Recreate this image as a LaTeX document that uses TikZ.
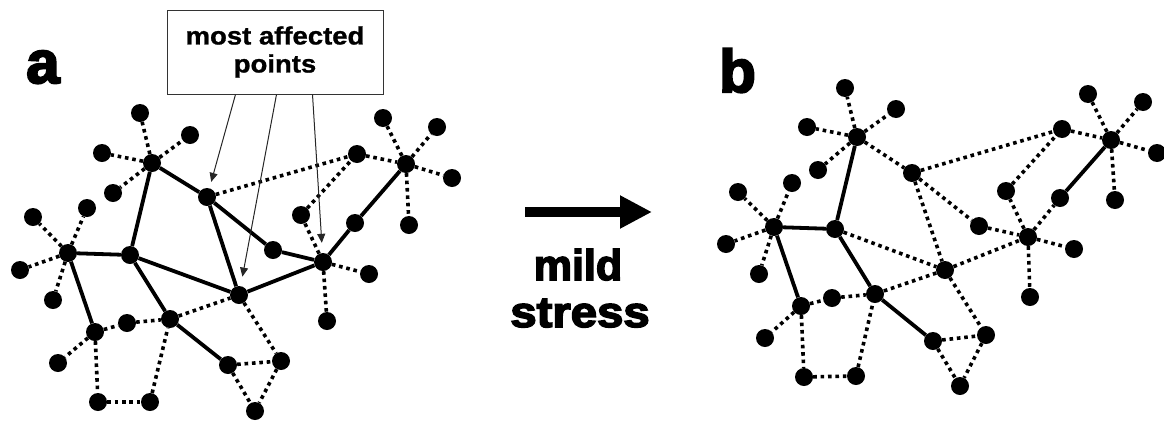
\documentclass[tikz,border=0pt]{standalone}
\usepackage{fontspec}
\usepackage{graphicx}
\usetikzlibrary{arrows.meta}
\newfontfamily\heavy{Liberation Sans}[FakeBold=3.5]
\newfontfamily\plainsans{Liberation Sans}[FakeBold=1]
\tikzset{
  dot/.style={circle, fill=black, inner sep=0pt, minimum size=18pt},
  solidedge/.style={line width=3.8pt},
  dotedge/.style={line width=3.6pt, dash pattern=on 3.6pt off 3.8pt},
  pointer/.style={line width=1pt, draw=black!85, -{Triangle[length=9pt,width=8pt]}},
  bigarrow/.style={line width=10pt, -{Triangle[length=32pt,width=31pt]}},
  panel/.style={font=\heavy\bfseries\fontsize{60}{60}\selectfont, inner sep=0pt, anchor=base west},
  stresstext/.style={font=\heavy\bfseries\fontsize{43}{43}\selectfont, inner sep=0pt, anchor=base},
  labelbox/.style={draw=black!80, line width=1pt, minimum width=216pt, minimum height=84pt, align=center, inner sep=0pt,
    font=\plainsans\bfseries\fontsize{25}{28}\selectfont}
}
\begin{document}
\begin{tikzpicture}[x=1pt,y=-1pt]
\useasboundingbox (0,0) rectangle (1164,421);

% ---------- panel a ----------
\node[panel] (la) at (26,83) {a};
\foreach \n/\x/\y in {L1/140/113, L2/190/135, L3/102/153, LH/152/163, L4/113/193, LA/207/197,
  L5/87/208, L6/33/217, LG/68/253, LC/130/255, L7/20/270, L8/53/300, LP/95/332, L9/127/323,
  LQ/170/319, L10/58/363, LR/228/365, LS/98/402, LT/150/402, LB/239/295, LU/281/361, LV/255/411,
  LK/273/250, LD/323/262, LE/369/274, LF/327/321, LW/301/215, LX/355/223, LY/357/154, LZ/406/164,
  M1/383/118, M2/437/127, M3/452/178, M4/409/225}
  {\node[dot] (\n) at (\x,\y) {};}

\foreach \a/\b in {LH/LA, LH/LC, LA/LB, LA/LK, LG/LC, LG/LP, LC/LQ, LC/LB, LQ/LR, LB/LD, LK/LD, LD/LX, LX/LZ}
  {\draw[solidedge] (\a) -- (\b);}

\foreach \a/\b in {LH/L1, LH/L2, LH/L3, LH/L4, LG/L5, LG/L6, LG/L7, LG/L8, LP/L9, L9/LQ, LP/L10, LP/LS,
  LS/LT, LT/LQ, LQ/LB, LB/LU, LR/LU, LR/LV, LU/LV, LA/LY, LD/LW, LW/LY, LY/LZ, LZ/M1, LZ/M2, LZ/M3,
  LZ/M4, LD/LE, LD/LF}
  {\draw[dotedge] (\a) -- (\b);}

\node[labelbox] (box) at (275,52) {\scalebox{1.1}[1]{most affected}\\\scalebox{1.1}[1]{points}};
\draw[pointer, shorten >=6.5pt] ([xshift=69pt]box.south west) -- (LA);
\draw[pointer, shorten >=9.5pt] ([xshift=110pt]box.south west) -- (LB);
\draw[pointer, shorten >=10pt] ([xshift=146pt]box.south west) -- (LD);

% ---------- middle ----------
\coordinate (arA) at (525,212);
\coordinate (arB) at (652,212);
\draw[bigarrow] (arA) -- (arB);
\node[stresstext] (mild) at (578,280) {mild};
\node[stresstext] (stress) at (580,327) {\scalebox{1.1}[1]{stress}};

% ---------- panel b ----------
\node[panel] (lb) at (719,92) {b};
\foreach \n/\x/\y in {R1/845/88, R2/896/109, R3/807/127, RH/857/137, R4/818/170, RI/912/173,
  R5/792/183, R6/738/192, RG/774/227, RC/835/229, R7/726/244, R8/759/274, RJ/945/270, RP/801/306,
  R9/832/298, RQ/875/294, R10/765/338, RR/933/341, RU/986/335, RS/804/377, RT/856/376, RV/960/386,
  RK/979/226, RD/1028/237, RW/1006/191, RX/1060/198, RE/1074/249, RF/1030/297, RY/1062/129,
  RZ/1111/140, N1/1088/94, N2/1143/102, N3/1157/153, N4/1115/200}
  {\node[dot] (\n) at (\x,\y) {};}

\foreach \a/\b in {RH/RC, RG/RC, RG/RP, RC/RQ, RQ/RR, RZ/RX}
  {\draw[solidedge] (\a) -- (\b);}

\foreach \a/\b in {RH/R1, RH/R2, RH/R3, RH/R4, RH/RI, RG/R5, RG/R6, RG/R7, RG/R8, RC/RJ, RI/RJ,
  RI/RK, RI/RY, RJ/RQ, RJ/RD, RJ/RU, RR/RU, RR/RV, RU/RV, RK/RD, RD/RW, RD/RX, RD/RE, RD/RF,
  RW/RY, RY/RZ, RZ/N1, RZ/N2, RZ/N3, RZ/N4, RP/R9, R9/RQ, RP/R10, RP/RS, RS/RT, RT/RQ}
  {\draw[dotedge] (\a) -- (\b);}
\end{tikzpicture}
\end{document}
